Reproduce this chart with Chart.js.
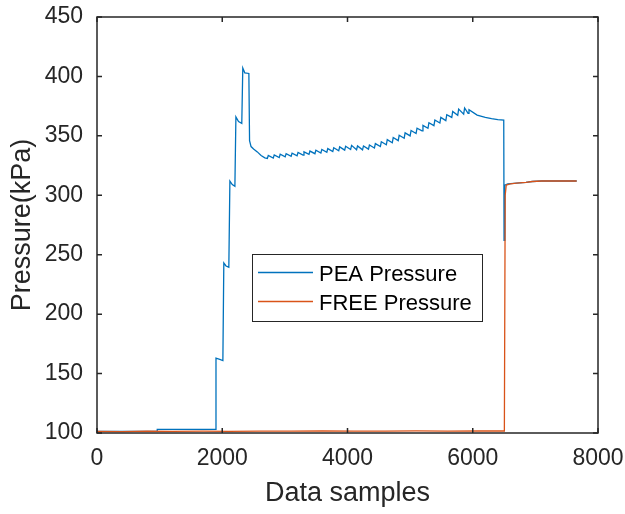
<!DOCTYPE html>
<html>
<head>
  <meta charset="utf-8">
  <script src="https://cdn.jsdelivr.net/npm/chart.js"></script>
  <style>
    html, body { margin: 0; padding: 0; background: #fff; }
    #pressureChart { display: block; }
  </style>
</head>
<body>
  <canvas id="pressureChart" width="625" height="514"></canvas>
  <script>
// axis ticks
const xTicks = [0, 2000, 4000, 6000, 8000];
const yTicks = [100, 150, 200, 250, 300, 350, 400, 450];

// PEA pressure: idle, then the step ramp and the drop after the last step
const peaRampX = [0, 960, 962, 1890, 1900, 1960, 2010, 2025, 2060, 2105, 2122, 2160, 2202,
  2218, 2260, 2312, 2328, 2360, 2425, 2436, 2460, 2500, 2560, 2620, 2680];
const peaRampY = [101.3, 101.3, 103, 103, 163, 162, 161, 243, 240.5, 239.5, 312, 309, 307.5,
  366, 362, 360.5, 407, 403, 402.5, 346, 341, 339, 336.5, 333.5, 331.5];

// PEA pressure: saw teeth (start of each pump, low and high value)
const toothX = [2720, 2815, 2910, 3005, 3100, 3195, 3290, 3385, 3480, 3575, 3670, 3765,
  3860, 3955, 4050, 4145, 4240, 4335, 4430, 4525, 4620, 4715, 4810, 4905, 5000, 5095,
  5190, 5285, 5380, 5475, 5570, 5665, 5760, 5855];
const toothLow = [331.0, 331.3, 331.7, 332.3, 332.8, 333.3, 333.8, 334.4, 335.0, 335.6,
  336.2, 336.8, 337.4, 338.0, 338.5, 338.3, 338.2, 338.8, 339.8, 341.0, 342.5, 344.2,
  346.0, 348.0, 350.0, 352.0, 354.2, 356.4, 358.6, 360.8, 362.8, 365.5, 367.3, 368.3];
const toothHigh = [333.5, 334.0, 334.5, 335.0, 335.5, 336.0, 336.5, 337.2, 338.0, 338.6,
  339.3, 340.0, 340.7, 341.3, 342.0, 341.5, 341.5, 342.3, 343.5, 345.0, 346.8, 348.6,
  350.5, 352.5, 354.5, 356.5, 358.8, 361.0, 363.3, 365.5, 367.8, 370.5, 372.5, 373.5];
const toothRise = 15;

// PEA pressure: slow leak, release and the final level
const peaTailX = [5925, 5940, 6070, 6200, 6300, 6400, 6495, 6500, 6512, 6560, 6700, 6850,
  6950, 7100, 7660];
const peaTailY = [369, 372, 367.5, 365.5, 364.5, 363.7, 363.2, 262, 308.5, 309.6, 310.2,
  310.8, 311.6, 312, 312];

// FREE pressure
const freeX = [0, 400, 800, 1200, 1700, 2100, 2600, 3100, 3600, 4100, 4600, 5100, 5600,
  6100, 6505, 6518, 6535, 6600, 6700, 6850, 6950, 7100, 7660];
const freeY = [101.4, 101.2, 101.5, 101.3, 101.6, 101.4, 101.6, 101.5, 101.7, 101.5, 101.6,
  101.8, 101.6, 101.7, 101.7, 300, 308.6, 309.6, 310.2, 310.8, 311.6, 312, 312];

const seriesNames = ['PEA Pressure', 'FREE Pressure'];
const blue = 'rgb(0,114,189)';
const orange = 'rgb(217,83,25)';
const axisColor = '#262626';
const fontFamily = '"Liberation Sans", Arial, sans-serif';

function pairs(xs, ys) {
  return xs.map((x, i) => ({ x: x, y: ys[i] }));
}

const peaPoints = pairs(peaRampX, peaRampY);
toothX.forEach((x, i) => {
  peaPoints.push({ x: x, y: toothLow[i] });
  peaPoints.push({ x: x + toothRise, y: toothHigh[i] });
});
pairs(peaTailX, peaTailY).forEach(p => peaPoints.push(p));

// box, inward ticks and the legend, MATLAB style
const matlabBox = {
  id: 'matlabBox',
  afterDatasetsDraw(chart) {
    const { ctx, chartArea: a, scales } = chart;
    ctx.save();
    ctx.strokeStyle = axisColor;
    ctx.lineWidth = 1.5;
    ctx.strokeRect(a.left, a.top, a.right - a.left, a.bottom - a.top);
    ctx.beginPath();
    xTicks.forEach(v => {
      const px = scales.x.getPixelForValue(v);
      ctx.moveTo(px, a.bottom); ctx.lineTo(px, a.bottom - 5);
      ctx.moveTo(px, a.top); ctx.lineTo(px, a.top + 5);
    });
    yTicks.forEach(v => {
      const py = scales.y.getPixelForValue(v);
      ctx.moveTo(a.left, py); ctx.lineTo(a.left + 5, py);
      ctx.moveTo(a.right, py); ctx.lineTo(a.right - 5, py);
    });
    ctx.stroke();

    // legend
    const lx = a.left + 155, ly = a.top + 237, lw = 230, lh = 67;
    ctx.fillStyle = '#fff';
    ctx.fillRect(lx, ly, lw, lh);
    ctx.lineWidth = 1;
    ctx.strokeRect(lx + 0.5, ly + 0.5, lw, lh);
    ctx.font = '22px ' + fontFamily;
    ctx.textBaseline = 'alphabetic';
    chart.data.datasets.forEach((ds, i) => {
      const base = ly + 27 + i * 29;
      ctx.strokeStyle = ds.borderColor;
      ctx.lineWidth = 1.3;
      ctx.beginPath();
      ctx.moveTo(lx + 6, base - 8.5);
      ctx.lineTo(lx + 61, base - 8.5);
      ctx.stroke();
      ctx.fillStyle = '#000';
      ctx.fillText(ds.label, lx + 67, base);
    });
    ctx.restore();
  }
};

const ctx = document.getElementById('pressureChart').getContext('2d');
new Chart(ctx, {
  type: 'line',
  data: {
    datasets: [{
      label: seriesNames[0],
      data: peaPoints,
      borderColor: blue,
      borderWidth: 1.3,
      pointRadius: 0,
      fill: false,
      order: 1
    }, {
      label: seriesNames[1],
      data: pairs(freeX, freeY),
      borderColor: orange,
      borderWidth: 1.3,
      pointRadius: 0,
      fill: false,
      order: 0
    }]
  },
  options: {
    responsive: false,
    animation: false,
    layout: { padding: { top: 17, right: 27, left: 0, bottom: 0 } },
    plugins: {
      legend: { display: false },
      tooltip: { enabled: false }
    },
    scales: {
      x: {
        type: 'linear',
        min: 0,
        max: 8000,
        grid: { display: false, drawTicks: false, tickLength: 0 },
        border: { display: false },
        afterBuildTicks: s => { s.ticks = xTicks.map(v => ({ value: v })); },
        afterFit: s => { s.height = 81; s.paddingLeft = 0; s.paddingRight = 0; },
        ticks: {
          padding: 12,
          color: axisColor,
          maxRotation: 0,
          callback: v => String(v),
          font: { family: fontFamily, size: 23 }
        },
        title: {
          display: true,
          text: 'Data samples',
          color: axisColor,
          padding: { top: 0, bottom: 4 },
          font: { family: fontFamily, size: 27 }
        }
      },
      y: {
        min: 100,
        max: 450,
        grid: { display: false, drawTicks: false, tickLength: 0 },
        border: { display: false },
        afterBuildTicks: s => { s.ticks = yTicks.map(v => ({ value: v })); },
        afterFit: s => { s.width = 97; s.paddingTop = 0; s.paddingBottom = 0; },
        ticks: {
          padding: 14,
          color: axisColor,
          callback: v => String(v),
          font: { family: fontFamily, size: 23 }
        },
        title: {
          display: true,
          text: 'Pressure(kPa)',
          color: axisColor,
          padding: { top: 6, bottom: 0 },
          font: { family: fontFamily, size: 27 }
        }
      }
    }
  },
  plugins: [matlabBox]
});
  </script>
</body>
</html>
